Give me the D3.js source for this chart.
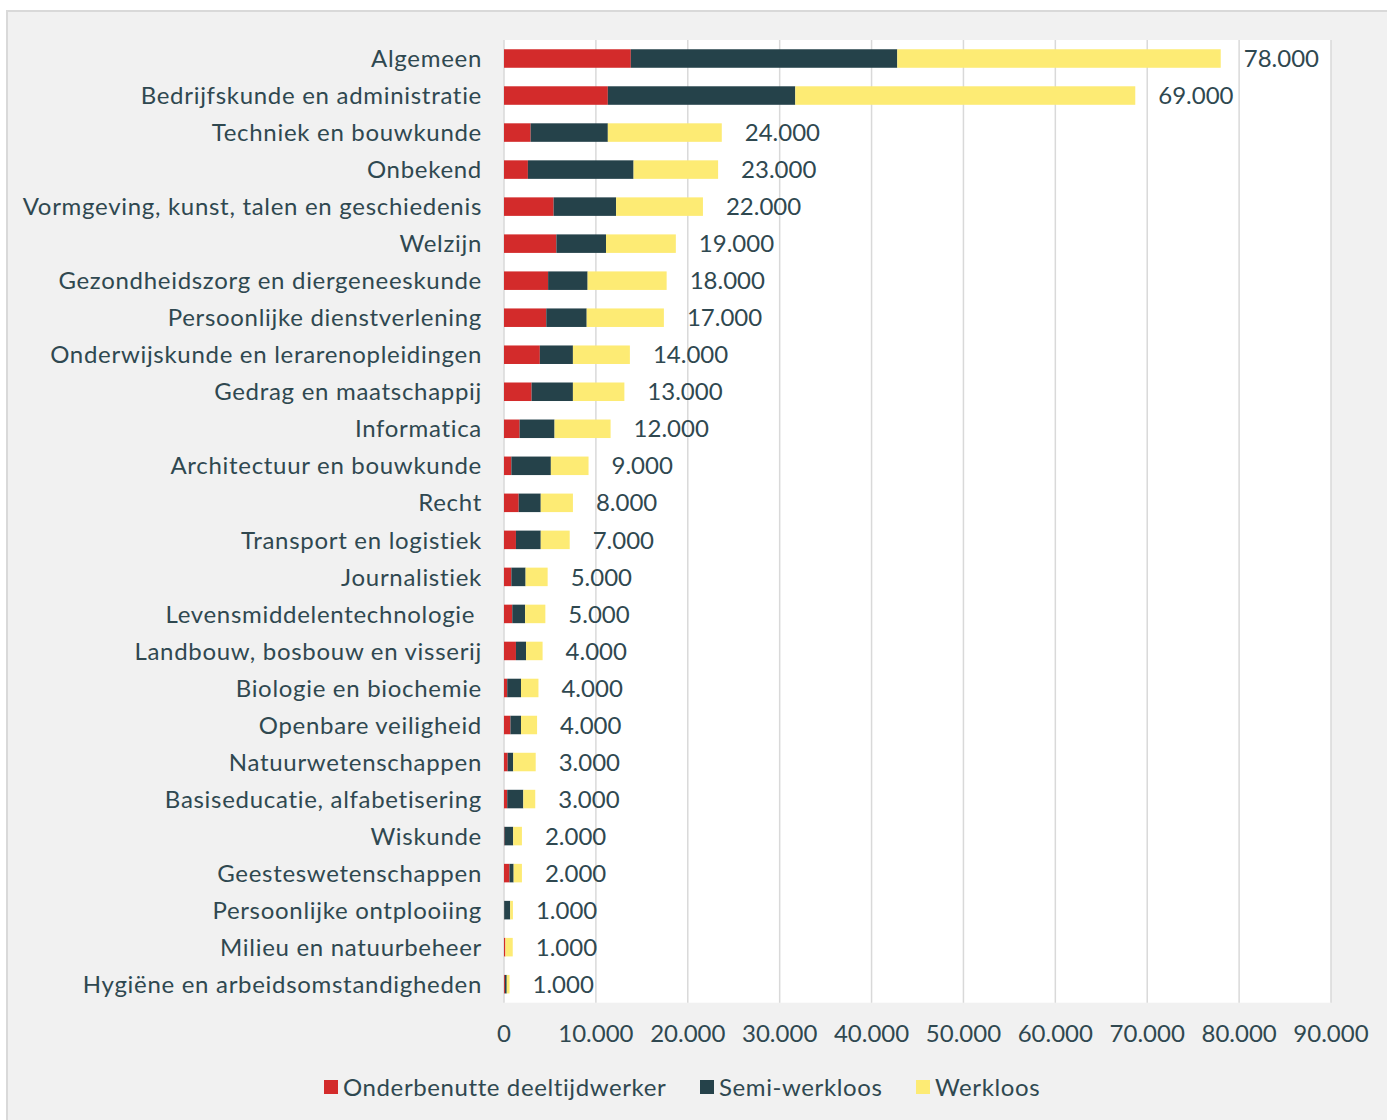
<!DOCTYPE html>
<html>
<head>
<meta charset="utf-8">
<script src="https://cdn.jsdelivr.net/npm/d3@7"></script>
<style>
  body { margin: 0; background: #fff; }
  text { font-family: Lato, "Noto Sans", sans-serif; fill: #2f4850; }
</style>
</head>
<body>
<svg id="chart" width="1387" height="1120"></svg>
<script>
// Data (in thousands)
const categories = [
  'Algemeen', 'Bedrijfskunde en administratie', 'Techniek en bouwkunde', 'Onbekend',
  'Vormgeving, kunst, talen en geschiedenis', 'Welzijn', 'Gezondheidszorg en diergeneeskunde',
  'Persoonlijke dienstverlening', 'Onderwijskunde en lerarenopleidingen', 'Gedrag en maatschappij',
  'Informatica', 'Architectuur en bouwkunde', 'Recht', 'Transport en logistiek', 'Journalistiek',
  'Levensmiddelentechnologie ', 'Landbouw, bosbouw en visserij', 'Biologie en biochemie',
  'Openbare veiligheid', 'Natuurwetenschappen', 'Basiseducatie, alfabetisering', 'Wiskunde',
  'Geesteswetenschappen', 'Persoonlijke ontplooiing', 'Milieu en natuurbeheer',
  'Hygiëne en arbeidsomstandigheden'
];
const onderbenut = [13.8, 11.3, 2.9, 2.6, 5.4, 5.7, 4.8, 4.6, 3.9, 3.0, 1.7, 0.8, 1.6, 1.3, 0.8,
  0.9, 1.3, 0.35, 0.7, 0.4, 0.35, 0.05, 0.6, 0.02, 0.15, 0.1];
const semiWerkloos = [29.0, 20.4, 8.4, 11.5, 6.8, 5.4, 4.3, 4.4, 3.6, 4.5, 3.8, 4.3, 2.4, 2.7, 1.55,
  1.4, 1.1, 1.5, 1.15, 0.6, 1.75, 0.95, 0.45, 0.65, 0, 0.2];
const werkloos = [35.2, 37.0, 12.4, 9.2, 9.45, 7.6, 8.6, 8.4, 6.2, 5.6, 6.1, 4.1, 3.5, 3.15, 2.4,
  2.2, 1.8, 1.9, 1.75, 2.45, 1.3, 0.95, 0.9, 0.3, 0.8, 0.3];
const totalLabels = ['78.000', '69.000', '24.000', '23.000', '22.000', '19.000', '18.000', '17.000',
  '14.000', '13.000', '12.000', '9.000', '8.000', '7.000', '5.000', '5.000', '4.000', '4.000',
  '4.000', '3.000', '3.000', '2.000', '2.000', '1.000', '1.000', '1.000'];
const seriesNames = ['Onderbenutte deeltijdwerker', 'Semi-werkloos', 'Werkloos'];
const seriesColors = ['#d32b2b', '#25424a', '#fdeb74'];
const xTicks = [0, 10, 20, 30, 40, 50, 60, 70, 80, 90];

const svg = d3.select('#chart');
const plot = { left: 504, right: 1331, top: 40, bottom: 1002.7 };

// Frame background
svg.append('rect')
  .attr('x', 7).attr('y', 11)
  .attr('width', 1400).attr('height', 1130)
  .attr('fill', '#f1f1f1')
  .attr('stroke', '#d9d9d9')
  .attr('stroke-width', 2);

svg.append('rect')
  .attr('x', plot.left).attr('y', plot.top)
  .attr('width', plot.right - plot.left).attr('height', plot.bottom - plot.top)
  .attr('fill', '#fff');

const x = d3.scaleLinear().domain([0, 90]).range([plot.left, plot.right]);
const y = d3.scaleBand().domain(categories).range([plot.top, plot.bottom]).paddingInner(0.5).paddingOuter(0.25);

// Gridlines
svg.append('g')
  .selectAll('line')
  .data(xTicks)
  .join('line')
  .attr('x1', d => x(d)).attr('x2', d => x(d))
  .attr('y1', plot.top).attr('y2', plot.bottom)
  .attr('stroke', '#d9d9d9')
  .attr('stroke-width', 1.5);

// Stacked bars
const rows = categories.map((c, i) => ({ cat: c, s0: onderbenut[i], s1: semiWerkloos[i], s2: werkloos[i] }));
const stacked = d3.stack().keys(['s0', 's1', 's2'])(rows);

svg.append('g')
  .selectAll('g')
  .data(stacked)
  .join('g')
  .attr('fill', (d, i) => seriesColors[i])
  .selectAll('rect')
  .data(d => d)
  .join('rect')
  .attr('x', d => x(d[0]))
  .attr('y', d => y(d.data.cat))
  .attr('width', d => Math.max(0, x(d[1]) - x(d[0])))
  .attr('height', y.bandwidth());

// Total labels
svg.append('g')
  .selectAll('text')
  .data(rows)
  .join('text')
  .attr('x', d => x(d.s0 + d.s1 + d.s2) + 23)
  .attr('y', d => y(d.cat) + y.bandwidth() / 2)
  .attr('dy', '0.36em')
  .attr('font-size', 24)
  .text((d, i) => totalLabels[i]);

// Category axis
svg.append('g')
  .selectAll('text')
  .data(categories)
  .join('text')
  .attr('x', 482)
  .attr('y', d => y(d) + y.bandwidth() / 2)
  .attr('dy', '0.36em')
  .attr('text-anchor', 'end')
  .attr('font-size', 24)
  .attr('letter-spacing', 0.7)
  .style('white-space', 'pre')
  .text(d => d);

// Value axis
svg.append('g')
  .selectAll('text')
  .data(xTicks)
  .join('text')
  .attr('x', d => x(d))
  .attr('y', 1033)
  .attr('dy', '0.36em')
  .attr('text-anchor', 'middle')
  .attr('font-size', 24)
  .text(d => d === 0 ? '0' : d3.format(',')(d * 1000).replace(/,/g, '.'));

// Legend
const legendX = [324, 700, 916];
const legend = svg.append('g');
seriesNames.forEach((name, i) => {
  legend.append('rect')
    .attr('x', legendX[i]).attr('y', 1080)
    .attr('width', 14).attr('height', 14)
    .attr('fill', seriesColors[i]);
  legend.append('text')
    .attr('x', legendX[i] + 19)
    .attr('y', 1087)
    .attr('dy', '0.36em')
    .attr('font-size', 24)
    .attr('letter-spacing', 0.6)
    .text(name);
});
</script>
</body>
</html>
